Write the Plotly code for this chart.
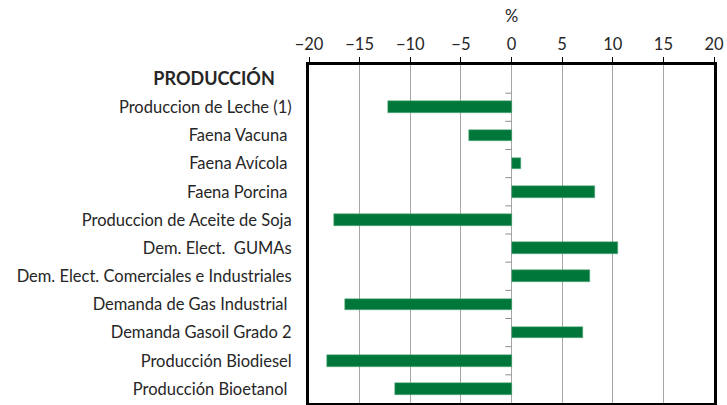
import plotly.graph_objects as go

# categories top to bottom (first one is a section header with no bar)
categories = [
    "PRODUCCIÓN",
    "Produccion de Leche (1)",
    "Faena Vacuna ",
    "Faena Avícola ",
    "Faena Porcina ",
    "Produccion de Aceite de Soja",
    "Dem. Elect.  GUMAs",
    "Dem. Elect. Comerciales e Industriales",
    "Demanda de Gas Industrial ",
    "Demanda Gasoil Grado 2",
    "Producción Biodiesel",
    "Producción Bioetanol ",
]
values = [None, -12.2, -4.2, 0.9, 8.2, -17.5, 10.5, 7.8, -16.4, 7.1, -18.2, -11.5]
x_ticks = [-20, -15, -10, -5, 0, 5, 10, 15, 20]

ypos = list(range(len(categories)))
labels = (["<span style='font-size:18px'><b>PRODUCCIÓN</b></span>" + "\u00a0" * 4]
          + [c.replace(" ", "\u00a0") for c in categories[1:]])

font_family = "Lato, 'Open Sans', sans-serif"

fig = go.Figure()
fig.add_trace(go.Bar(
    x=values, y=ypos, orientation="h",
    width=0.41,
    marker=dict(color="#00773a", line=dict(color="#5fae84", width=0.5)),
    showlegend=False,
))

# small ticks on the zero axis between categories
for i in range(len(categories) - 1):
    fig.add_shape(type="line", xref="x", yref="y",
                  x0=-0.6, x1=0, y0=i + 0.5, y1=i + 0.5,
                  line=dict(color="#8c8c8c", width=1))

fig.update_layout(
    width=727, height=405,
    margin=dict(l=309, r=13, t=65, b=2),
    plot_bgcolor="white", paper_bgcolor="white",
    font=dict(family=font_family, size=16.5, color="#262626"),
    bargap=0,
)
fig.update_xaxes(
    side="top", range=[-20, 20], tickvals=x_ticks,
    ticks="outside", ticklen=5, tickcolor="black", tickwidth=1,
    showline=True, linewidth=3, linecolor="black", mirror=True,
    showgrid=True, gridcolor="#a6a6a6", gridwidth=1,
    zeroline=True, zerolinecolor="#a6a6a6", zerolinewidth=1,
    title=dict(text="%", standoff=8, font=dict(size=16.5)),
    tickfont=dict(size=16.5), fixedrange=True, automargin=False,
)
fig.update_yaxes(
    range=[len(categories) - 0.5, -0.5],
    tickvals=ypos, ticktext=labels,
    ticks="", ticklabelstandoff=11,
    showline=True, linewidth=3, linecolor="black", mirror=True,
    showgrid=False, zeroline=False,
    tickfont=dict(size=16.5), fixedrange=True, automargin=False,
)

fig.write_html("out.html", config={"displayModeBar": False},
               post_script="document.body.style.margin='0';")
